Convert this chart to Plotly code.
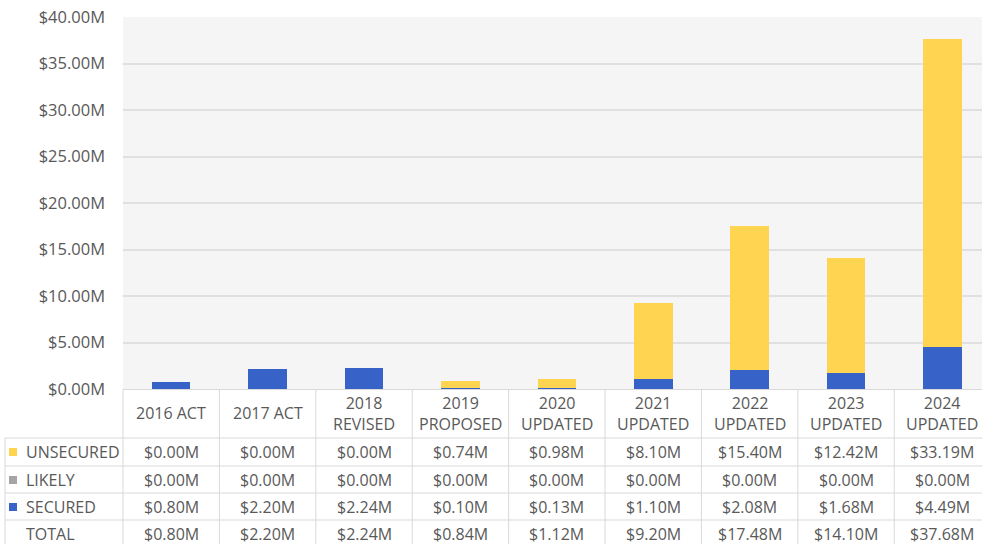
import plotly.graph_objects as go

# ---------------- data ----------------
categories = ["2016 ACT", "2017 ACT", "2018<br>REVISED", "2019<br>PROPOSED", "2020<br>UPDATED",
              "2021<br>UPDATED", "2022<br>UPDATED", "2023<br>UPDATED", "2024<br>UPDATED"]
unsecured = [0.00, 0.00, 0.00, 0.74, 0.98, 8.10, 15.40, 12.42, 33.19]
likely = [0.00, 0.00, 0.00, 0.00, 0.00, 0.00, 0.00, 0.00, 0.00]
secured = [0.80, 2.20, 2.24, 0.10, 0.13, 1.10, 2.08, 1.68, 4.49]
total = [0.80, 2.20, 2.24, 0.84, 1.12, 9.20, 17.48, 14.10, 37.68]
y_ticks = [0, 5, 10, 15, 20, 25, 30, 35, 40]
y_tick_labels = ["$0.00M", "$5.00M", "$10.00M", "$15.00M", "$20.00M",
                 "$25.00M", "$30.00M", "$35.00M", "$40.00M"]

# ---------------- style ----------------
W, H = 982, 544
L, R, T, B = 123, 0, 17, 155
PW, PH = W - L - R, H - T - B
FONT = "Open Sans"
TXT = "#595959"
GRID = "#e0e0e0"
BORDER = "#d9d9d9"
C_UNS, C_LIK, C_SEC = "#FFD450", "#A5A5A5", "#3763C8"
XR = [-0.5, 8.41]
FS = 16

def px_x(px):
    return (px - L) / PW

def px_y(py):
    return (H - B - py) / PH

def cat_x(v):
    return (v - XR[0]) / (XR[1] - XR[0])

xs = list(range(len(categories)))

fig = go.Figure()
fig.add_bar(x=xs, y=secured, name="SECURED", marker=dict(color=C_SEC, line=dict(width=0)))
fig.add_bar(x=xs, y=likely, name="LIKELY", marker=dict(color=C_LIK, line=dict(width=0)))
fig.add_bar(x=xs, y=unsecured, name="UNSECURED", marker=dict(color=C_UNS, line=dict(width=0)))

shapes = []
ann = []

# table borders
row_lines = [438, 466, 493, 520]
for py in row_lines:
    shapes.append(dict(type="line", xref="paper", yref="paper", x0=px_x(5), x1=1,
                       y0=px_y(py), y1=px_y(py), line=dict(color=BORDER, width=1)))
for i in range(len(categories)):
    xv = cat_x(i - 0.5)
    shapes.append(dict(type="line", xref="paper", yref="paper", x0=xv, x1=xv,
                       y0=px_y(389), y1=px_y(H), line=dict(color=BORDER, width=1)))
shapes.append(dict(type="line", xref="paper", yref="paper", x0=px_x(5), x1=px_x(5),
                   y0=px_y(438), y1=px_y(H), line=dict(color=BORDER, width=1)))

# header labels
for i, c in enumerate(categories):
    ann.append(dict(x=i, xref="x", y=px_y(413), yref="paper", text=c, showarrow=False,
                    xanchor="center", yanchor="middle", font=dict(family=FONT, size=FS, color=TXT)))

rows = [("UNSECURED", unsecured, C_UNS, 452), ("LIKELY", likely, C_LIK, 480),
        ("SECURED", secured, C_SEC, 507), ("TOTAL", total, None, 534)]
for label, vals, col, py in rows:
    ann.append(dict(x=px_x(24), xref="paper", y=px_y(py), yref="paper", text=label,
                    showarrow=False, xanchor="left", yanchor="middle",
                    font=dict(family=FONT, size=FS, color=TXT)))
    if col:
        shapes.append(dict(type="rect", xref="paper", yref="paper", x0=px_x(9), x1=px_x(17),
                           y0=px_y(py + 4), y1=px_y(py - 4), fillcolor=col, line=dict(width=0)))
    for i, v in enumerate(vals):
        ann.append(dict(x=i, xref="x", y=px_y(py), yref="paper", text=f"${v:.2f}M",
                        showarrow=False, xanchor="center", yanchor="middle",
                        font=dict(family=FONT, size=FS, color=TXT)))

fig.update_layout(
    width=W, height=H, margin=dict(l=L, r=R, t=T, b=B, pad=0, autoexpand=False),
    barmode="stack", bargap=0.6, showlegend=False,
    paper_bgcolor="white", plot_bgcolor="#f5f5f5",
    font=dict(family=FONT, size=FS, color=TXT),
    shapes=shapes, annotations=ann,
    xaxis=dict(range=XR, showticklabels=False, showgrid=False, zeroline=False,
               showline=True, linecolor=BORDER, linewidth=1, fixedrange=True),
    yaxis=dict(range=[0, 40], tickmode="array", tickvals=y_ticks, ticktext=y_tick_labels,
               showgrid=True, gridcolor=GRID, gridwidth=1.5, zeroline=False, showline=False,
               ticklabelstandoff=17, tickfont=dict(family=FONT, size=16.5, color=TXT)),
)

fig.write_html("out.html", config={"displayModeBar": False},
               post_script="document.body.style.margin='0';")
